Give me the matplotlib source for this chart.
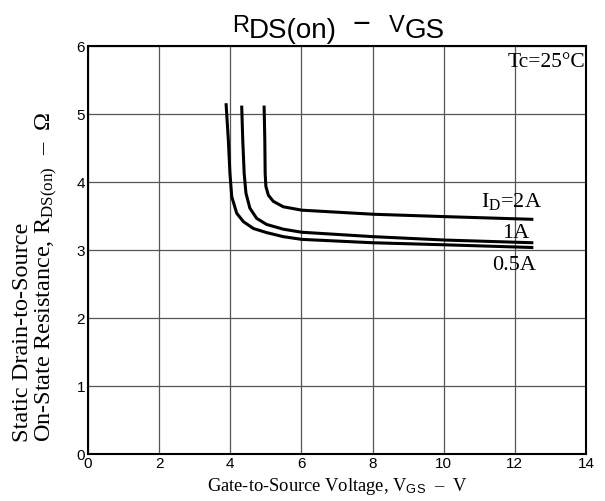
import matplotlib.pyplot as plt
import numpy as np

plt.rcParams["mathtext.fontset"] = "custom"
plt.rcParams["mathtext.rm"] = "Liberation Serif"
plt.rcParams["mathtext.sf"] = "Liberation Sans"
plt.rcParams["mathtext.it"] = "Liberation Serif:italic"

# I_D = 0.5 A
vgs_05 = [3.88, 3.945, 3.99, 4.04, 4.18, 4.37, 4.65, 5.02, 5.49, 6.01, 8.02, 10.04, 12.52]
r_05 = [5.165, 4.62, 4.13, 3.79, 3.545, 3.42, 3.32, 3.26, 3.20, 3.16, 3.11, 3.08, 3.04]
# I_D = 1 A
vgs_1 = [4.32, 4.35, 4.39, 4.44, 4.55, 4.74, 5.02, 5.49, 6.01, 8.02, 10.04, 12.52]
r_1 = [5.13, 4.62, 4.13, 3.84, 3.62, 3.47, 3.38, 3.31, 3.265, 3.20, 3.15, 3.11]
# I_D = 2 A
vgs_2 = [4.95, 4.97, 4.98, 5.00, 5.07, 5.21, 5.49, 6.01, 8.02, 10.04, 12.52]
r_2 = [5.13, 4.62, 4.13, 3.94, 3.81, 3.72, 3.64, 3.59, 3.53, 3.495, 3.455]

serif = "Liberation Serif"
sans = "Liberation Sans"

fig = plt.figure(figsize=(6.05, 5.01), dpi=100)
ax = fig.add_axes([0.1455, 0.0938, 0.8231, 0.8134])

for x, y in [(vgs_05, r_05), (vgs_1, r_1), (vgs_2, r_2)]:
    ax.plot(x, y, color="black", lw=2.2, solid_capstyle="butt", solid_joinstyle="round")

ax.set_xlim(0, 14)
ax.set_ylim(0, 6)
ax.set_xticks(np.arange(0, 15, 2))
ax.set_yticks(np.arange(0, 7, 1))
ax.grid(True, color="#555555", lw=0.9)
ax.tick_params(length=0, pad=2, labelsize=11)
for lab in ax.get_xticklabels() + ax.get_yticklabels():
    lab.set_family(sans)
for s in ax.spines.values():
    s.set_linewidth(1.5)

ax.set_xlabel("Gate-to-Source Voltage, V$_{\\mathsf{GS}}$  –  V",
              family=serif, fontsize=13.3, labelpad=4)
ax.set_ylabel("Static Drain-to-Source\nOn-State Resistance, R$_{\\mathrm{DS(on)}}$  –  Ω",
              family=serif, fontsize=17.5, multialignment="left", linespacing=1.05)
ax.yaxis.set_label_coords(-0.056, 0.435)

# title: raised R / V with larger lowered subscripts
fig.text(232 / 605, 1 - 31.7 / 501, "R", family=sans, fontsize=17, va="baseline")
fig.text(249 / 605, 1 - 38.3 / 501, "DS(on)", family=sans, fontsize=20, va="baseline")
fig.text(361 / 605, 1 - 33 / 501, "−", family=sans, fontsize=22, va="baseline", ha="center")
fig.text(389 / 605, 1 - 31.7 / 501, "V", family=sans, fontsize=17, va="baseline")
fig.text(405 / 605, 1 - 38.3 / 501, "GS", family=sans, fontsize=20, va="baseline")

ax.text(13.97, 5.70, "Tc=25°C", family=serif, fontsize=15.5, ha="right", va="baseline")
ax.text(12.76, 3.64, "I$_{\\mathrm{D}}$=2A", family=serif, fontsize=16, ha="right", va="baseline")
ax.text(12.41, 3.18, "1A", family=serif, fontsize=16, ha="right", va="baseline")
ax.text(12.59, 2.71, "0.5A", family=serif, fontsize=16, ha="right", va="baseline")

plt.savefig("out.png", dpi=100)
